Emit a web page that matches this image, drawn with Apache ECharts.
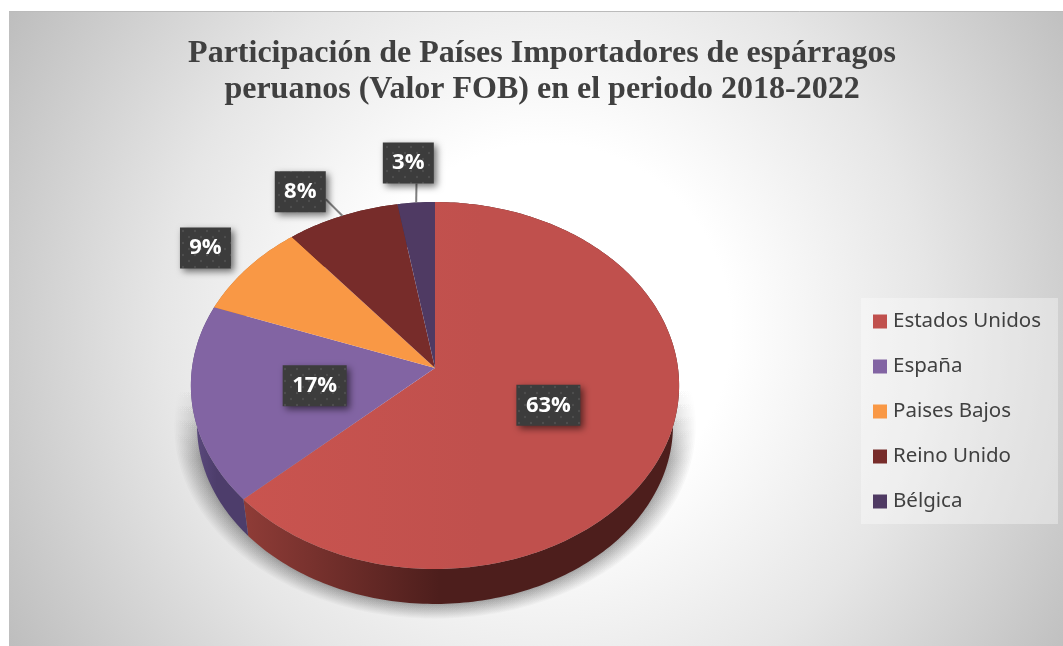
<!DOCTYPE html>
<html><head><meta charset="utf-8">
<style>html,body{margin:0;padding:0;background:#fff}#c{width:1063px;height:646px}</style>
<script src="https://cdn.jsdelivr.net/npm/echarts@6/dist/echarts.min.js"></script>
</head><body><div id="c"></div>
<script>
// ---- data ----
const countries = ['Estados Unidos', 'España', 'Paises Bajos', 'Reino Unido', 'Bélgica'];
const shares = [63.2, 17.4, 8.5, 8.2, 2.7];
const titleLines = ['Participación de Países Importadores de espárragos', 'peruanos (Valor FOB) en el periodo 2018-2022'];
// ---- styles ----
const topColors = ['#c0504d', '#8264a3', '#f99845', '#772c2a', '#4f3a63'];
const topLight = ['#c9544f', '#8264a3', '#f99845', '#772c2a', '#4f3a63'];
const wallFrom = ['#8f3c37', '#5d4c80', '#b86f33', '#5a211f', '#3b2c4a'];
const wallTo = ['#4d1e1c', '#4d3d6b', '#b86f33', '#5a211f', '#3b2c4a'];
const labelRadius = [0.5, 0.5, 1.23, 1.23, 1.27];
const labelTurn = [0, 0, -0.5, -5.3, -0.7];
const leaderAnchor = [null, null, null, [1, 0.68], [0.66, 1]];
// projected disc geometry: circle seen in perspective
const apexX = 435, apexY = 368, discRx = 243, discRy = 181.8, persp = 0.0954;
const wallDrop = 40, wallShrink = 0.975;

function project(deg, r) {
  const t = deg * Math.PI / 180, u = Math.sin(t) * r, v = Math.cos(t) * r, w = 1 + persp * v;
  return [apexX + discRx * u / w, apexY - discRy * v / w];
}
function dropped(p) {
  return [apexX + (p[0] - apexX) * wallShrink, apexY + wallDrop + (p[1] - apexY) * wallShrink];
}
function arc(a, b) {
  const pts = [];
  const n = Math.max(2, Math.ceil(Math.abs(b - a)));
  for (let i = 0; i <= n; i++) pts.push(project(a + (b - a) * i / n, 1));
  return pts;
}
const total = shares.reduce((s, v) => s + v, 0);

const tile = document.createElement('canvas');
tile.width = 12; tile.height = 12;
(function () {
  const g = tile.getContext('2d');
  g.fillStyle = '#3c3c3c'; g.fillRect(0, 0, 12, 12);
  g.fillStyle = '#4e4e4e';
  [[3, 3], [9, 9]].forEach(p => { g.beginPath(); g.arc(p[0], p[1], 1.2, 0, 7); g.fill(); });
})();
const measure = document.createElement('canvas').getContext('2d');
const labelFont = 'bold 22px "Open Sans", "Noto Sans", sans-serif';

function renderSlice(params, api) {
  const idx = params.seriesIndex, val = api.value(0);
  let before = 0;
  for (let i = 0; i < idx; i++) before += shares[i];
  const a = before / total * 360, b = (before + val) / total * 360, mid = (a + b) / 2;
  const rim = arc(a, b);
  const wall = rim.concat(rim.slice().reverse().map(dropped));
  const text = Math.round(val / total * 100) + '%';
  measure.font = labelFont;
  const bw = Math.round(measure.measureText(text).width) + 19, bh = 41;
  const c = project(mid + labelTurn[idx], labelRadius[idx]);
  const bx = c[0] - bw / 2, by = c[1] - bh / 2;
  const kids = [
    { type: 'polygon', z2: 1, shape: { points: wall },
      style: { fill: new echarts.graphic.LinearGradient(0, 0, 1, 0, [
        { offset: 0, color: wallFrom[idx] }, { offset: 0.45, color: wallTo[idx] }, { offset: 1, color: wallTo[idx] }]) } },
    { type: 'polygon', z2: 2, shape: { points: [[apexX, apexY]].concat(rim) },
      style: { fill: new echarts.graphic.LinearGradient(0, 0, 1, 0, [
        { offset: 0, color: topLight[idx] }, { offset: 0.55, color: topColors[idx] }, { offset: 1, color: topColors[idx] }]) } }
  ];
  if (leaderAnchor[idx]) {
    const e = project(mid, 1), an = leaderAnchor[idx];
    kids.push({ type: 'line', z2: 3, shape: { x1: e[0], y1: e[1], x2: bx + bw * an[0], y2: by + bh * an[1] },
      style: { stroke: '#7f7f7f', lineWidth: 2 } });
  }
  kids.push({ type: 'rect', z2: 10, shape: { x: bx, y: by, width: bw, height: bh },
    style: { fill: { image: tile, repeat: 'repeat' }, shadowBlur: 7, shadowOffsetX: 3, shadowOffsetY: 3, shadowColor: 'rgba(0,0,0,0.55)' } });
  kids.push({ type: 'text', z2: 11, style: { text: text, x: c[0], y: c[1], align: 'center', verticalAlign: 'middle', fill: '#fff', font: labelFont } });
  return { type: 'group', children: kids };
}

// soft ground shadow: feathered stack of widened copies of the lower rim
const lowerRim = arc(0, 360).map(dropped);
const shadowLayers = [];
for (let i = 0; i < 18; i++) {
  const t = Math.pow((i + 1) / 18, 1.3);
  const sx = 1 + 0.095 * t, sy = 1 + 0.075 * t;
  shadowLayers.push({
    type: 'polygon', z: -6, silent: true,
    shape: { points: lowerRim.map(p => [apexX + (p[0] - apexX) * sx, apexY + wallDrop + (p[1] - apexY - wallDrop) * sy]) },
    style: { fill: new echarts.graphic.LinearGradient(0, 385, 0, 460, [
      { offset: 0, color: 'rgba(0,0,0,0)' }, { offset: 1, color: 'rgba(0,0,0,0.024)' }], true) }
  });
}

const chart = echarts.init(document.getElementById('c'), null, { renderer: 'canvas', width: 1063, height: 646 });
chart.setOption({
  animation: false,
  backgroundColor: '#ffffff',
  title: {
    text: titleLines.join('\n'), left: 542, top: 36, textAlign: 'center', padding: 0,
    textStyle: { fontFamily: '"Liberation Serif", serif', fontWeight: 'bold', fontSize: 32, lineHeight: 36, color: '#404040' }
  },
  legend: {
    orient: 'vertical', left: 861, top: 298, itemWidth: 14, itemHeight: 14, itemGap: 24, icon: 'rect',
    padding: [13, 17, 12, 12], backgroundColor: 'rgba(255,255,255,0.35)', selectedMode: false,
    textStyle: { fontFamily: '"Noto Sans", sans-serif', fontSize: 20.5, color: '#404040', padding: [0, 0, 0, 1], lineHeight: 21 },
    data: countries
  },
  graphic: [
    { type: 'rect', z: -10, silent: true, shape: { x: 9, y: 11, width: 1054, height: 635 },
      style: { fill: new echarts.graphic.RadialGradient(545, 330, 620, [
        { offset: 0, color: '#ffffff' }, { offset: 0.3, color: '#ffffff' }, { offset: 0.62, color: '#e6e6e6' }, { offset: 1, color: '#bebebe' }], true) } },
    { type: 'line', z: -9, silent: true, shape: { x1: 9, y1: 11.5, x2: 1063, y2: 11.5 }, style: { stroke: '#bbbbbb', lineWidth: 1 } }
  ].concat(shadowLayers),
  series: countries.map((name, i) => ({
    type: 'custom', name: name, coordinateSystem: 'none', silent: true,
    itemStyle: { color: topColors[i] },
    data: [[shares[i]]], renderItem: renderSlice
  }))
});
</script></body></html>
